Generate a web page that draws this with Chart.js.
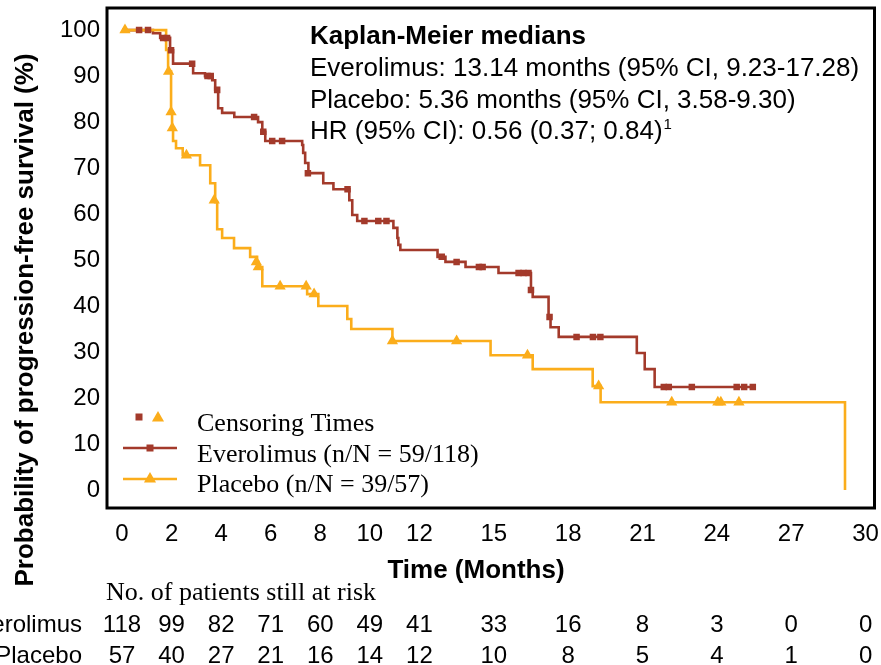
<!DOCTYPE html>
<html>
<head>
<meta charset="utf-8">
<script src="https://cdn.jsdelivr.net/npm/chart.js@4"></script>
<style>
  html, body { margin: 0; padding: 0; background: #fff; }
  #wrap { width: 881px; height: 665px; position: relative; overflow: hidden; }
</style>
</head>
<body>
<div id="wrap"><canvas id="km" width="881" height="665"></canvas></div>
<script>
// Axis ticks
const timeTicks = [0, 2, 4, 6, 8, 10, 12, 15, 18, 21, 24, 27, 30];
const survivalTicks = [0, 10, 20, 30, 40, 50, 60, 70, 80, 90, 100];

// Everolimus Kaplan-Meier steps (months, % progression-free)
const everolimusTimes = [0, 1.25, 1.54, 1.94, 2.06, 2.87, 3.35, 3.64, 3.76, 3.88, 4.04, 4.53, 5.49, 5.66, 5.78,
  7.27, 7.31, 7.39, 7.52, 8.12, 8.53, 9.17, 9.29, 9.49, 10.95, 11.11, 11.15, 11.23, 12.73, 13.05, 13.86,
  15.19, 16.50, 16.57, 17.21, 17.29, 17.62, 20.77, 21.09, 21.49, 25.45];
const everolimusSurvival = [100, 99.3, 98.3, 95.6, 92.7, 90.6, 90.0, 89.1, 87.0, 83.0, 82.0, 81.1, 80.0, 77.9, 75.9,
  75.0, 73.3, 71.1, 68.9, 66.7, 65.4, 63.0, 59.8, 58.5, 57.0, 54.8, 53.3, 52.2, 50.7, 49.6, 48.5,
  47.2, 43.5, 42.0, 37.6, 35.4, 33.3, 29.8, 26.3, 22.4, 22.4];
const everolimusCensorTimes = [0.69, 1.05, 1.66, 1.82, 1.98, 2.83, 3.45, 3.58, 3.84, 5.33, 5.70, 6.06, 6.46, 7.50,
  9.10, 9.78, 10.34, 10.67, 12.90, 13.50, 14.40, 14.55, 16.00, 16.20, 16.40, 16.50, 17.25, 18.34, 19.00, 19.30,
  21.86, 22.06, 22.99, 24.80, 25.10, 25.45];
const everolimusCensorSurvival = [100, 100, 98.3, 98.3, 95.6, 92.7, 90.0, 90.0, 87.0, 81.1, 77.9, 75.9, 75.9, 68.9,
  65.4, 58.5, 58.5, 58.5, 50.7, 49.6, 48.5, 48.5, 47.2, 47.2, 47.2, 43.5, 37.6, 33.3, 33.3, 33.3,
  22.4, 22.4, 22.4, 22.4, 22.4, 22.4];

// Placebo Kaplan-Meier steps
const placeboTimes = [0, 1.78, 1.86, 1.98, 2.02, 2.06, 2.18, 2.45, 3.15, 3.56, 3.76, 3.84, 4.04, 4.52, 5.17, 5.45,
  5.50, 5.66, 7.47, 7.92, 9.09, 9.25, 10.91, 14.87, 16.57, 18.99, 19.31, 29.17];
const placeboSurvival = [100, 95.7, 91.0, 82.2, 78.7, 75.9, 74.3, 72.8, 70.6, 66.7, 62.6, 56.7, 54.8, 52.6, 50.7, 49.6,
  48.5, 44.3, 42.6, 40.0, 37.2, 35.0, 32.4, 29.3, 26.3, 22.6, 19.1, 0];
const placeboCensorTimes = [0.12, 1.88, 1.98, 2.03, 2.60, 3.72, 5.42, 5.50, 6.38, 7.43, 7.75, 10.91, 13.50, 16.36,
  19.23, 22.18, 24.04, 24.16, 24.89];
const placeboCensorSurvival = [100, 91.0, 82.2, 78.7, 72.8, 63.0, 49.6, 48.5, 44.3, 44.3, 42.6, 32.4, 32.4, 29.3,
  22.6, 19.1, 19.1, 19.1, 19.1];

// Patients at risk at each time tick
const everolimusAtRisk = [118, 99, 82, 71, 60, 49, 41, 33, 16, 8, 3, 0, 0];
const placeboAtRisk = [57, 40, 27, 21, 16, 14, 12, 10, 8, 5, 4, 1, 0];

const medianLines = [
  'Kaplan-Meier medians',
  'Everolimus: 13.14 months (95% CI, 9.23-17.28)',
  'Placebo: 5.36 months (95% CI, 3.58-9.30)',
  'HR (95% CI): 0.56 (0.37; 0.84)'
];

const EVE = '#a33a2b';
const PLA = '#fbad1b';
const SANS = '"Liberation Sans", Arial, Helvetica, sans-serif';
const SERIF = '"Liberation Serif", "Times New Roman", Times, serif';

const zip = (xs, ys) => xs.map((x, i) => ({ x, y: ys[i] }));

function drawSquare(ctx, cx, cy, s, color) {
  ctx.fillStyle = color;
  ctx.fillRect(cx - s / 2, cy - s / 2, s, s);
}
function drawTriangle(ctx, cx, cy, r, color) {
  ctx.fillStyle = color;
  ctx.beginPath();
  ctx.moveTo(cx, cy - r);
  ctx.lineTo(cx + r * 0.866, cy + r * 0.5);
  ctx.lineTo(cx - r * 0.866, cy + r * 0.5);
  ctx.closePath();
  ctx.fill();
}

// Frame, medians text, legend, axis titles and the at-risk table
const kmDecor = {
  id: 'kmDecor',
  afterDraw(chart) {
    const { ctx, chartArea: a } = chart;
    const x = chart.scales.x;
    ctx.save();

    ctx.strokeStyle = '#000';
    ctx.lineWidth = 3;
    ctx.strokeRect(a.left, a.top, a.right - a.left, a.bottom - a.top);

    ctx.fillStyle = '#000';
    ctx.textAlign = 'left';
    ctx.textBaseline = 'alphabetic';
    ctx.font = 'bold 26px ' + SANS;
    ctx.fillText(medianLines[0], 310, 44);
    ctx.font = '26px ' + SANS;
    ctx.fillText(medianLines[1], 310, 76);
    ctx.fillText(medianLines[2], 310, 108);
    ctx.fillText(medianLines[3], 310, 139);
    const hrW = ctx.measureText(medianLines[3]).width;
    ctx.font = '15px ' + SANS;
    ctx.fillText('1', 310 + hrW + 1, 129);

    // legend
    drawSquare(ctx, 139, 417, 7, EVE);
    drawTriangle(ctx, 158, 418, 7, PLA);
    ctx.lineWidth = 2.5;
    ctx.strokeStyle = EVE;
    ctx.beginPath(); ctx.moveTo(123, 448); ctx.lineTo(177, 448); ctx.stroke();
    drawSquare(ctx, 150, 448, 7, EVE);
    ctx.strokeStyle = PLA;
    ctx.beginPath(); ctx.moveTo(123, 479); ctx.lineTo(177, 479); ctx.stroke();
    drawTriangle(ctx, 150, 479, 7, PLA);
    ctx.fillStyle = '#000';
    ctx.font = '26px ' + SERIF;
    ctx.fillText('Censoring Times', 197, 431);
    ctx.fillText('Everolimus (n/N = 59/118)', 197, 462);
    ctx.fillText('Placebo (n/N = 39/57)', 197, 492);

    // axis titles
    ctx.font = 'bold 26px ' + SANS;
    ctx.textAlign = 'center';
    ctx.fillText('Time (Months)', 476, 578);
    ctx.save();
    ctx.translate(33, 320);
    ctx.rotate(-Math.PI / 2);
    ctx.fillText('Probability of progression-free survival (%)', 0, 0);
    ctx.restore();

    // at-risk table
    ctx.textAlign = 'left';
    ctx.font = '26px ' + SERIF;
    ctx.fillText('No. of patients still at risk', 106, 600);
    ctx.font = '24px ' + SANS;
    ctx.textAlign = 'right';
    ctx.fillText('Everolimus', 82, 632);
    ctx.fillText('Placebo', 82, 663);
    ctx.textAlign = 'center';
    timeTicks.forEach((t, i) => {
      const px = x.getPixelForValue(t);
      ctx.fillText(String(everolimusAtRisk[i]), px, 632);
      ctx.fillText(String(placeboAtRisk[i]), px, 663);
    });

    ctx.restore();
  }
};

new Chart(document.getElementById('km'), {
  type: 'scatter',
  data: {
    datasets: [
      {
        label: 'Everolimus censored',
        data: zip(everolimusCensorTimes, everolimusCensorSurvival),
        pointStyle: 'rect', pointRadius: 4.6, backgroundColor: EVE, borderWidth: 0,
        order: 0
      },
      {
        label: 'Placebo censored',
        data: zip(placeboCensorTimes, placeboCensorSurvival),
        pointStyle: 'triangle', pointRadius: 6.5, backgroundColor: PLA, borderWidth: 0,
        order: 1
      },
      {
        label: 'Everolimus',
        data: zip(everolimusTimes, everolimusSurvival),
        showLine: true, stepped: 'before', borderColor: EVE, borderWidth: 2.6,
        pointRadius: 0, fill: false, order: 3
      },
      {
        label: 'Placebo',
        data: zip(placeboTimes, placeboSurvival),
        showLine: true, stepped: 'before', borderColor: PLA, borderWidth: 2.6,
        pointRadius: 0, fill: false, order: 2
      }
    ]
  },
  options: {
    responsive: false,
    animation: false,
    devicePixelRatio: 1,
    events: [],
    layout: { padding: { left: 0, top: 8, right: 6, bottom: 0 } },
    plugins: { legend: { display: false }, tooltip: { enabled: false }, title: { display: false } },
    scales: {
      x: {
        type: 'linear',
        min: -0.605,
        max: 30.36,
        grid: { display: false, drawTicks: false },
        border: { display: false },
        afterBuildTicks: (s) => { s.ticks = timeTicks.map(v => ({ value: v })); },
        afterFit: (s) => {
          s.height = 157;
          s.paddingLeft = 0; s.paddingRight = 0; s.paddingTop = 0; s.paddingBottom = 0;
        },
        ticks: {
          autoSkip: false, maxRotation: 0, padding: 12, color: '#000',
          font: { family: SANS, size: 24 },
          callback: (v) => String(v)
        }
      },
      y: {
        type: 'linear',
        min: -3.9,
        max: 104.8,
        grid: { display: false, drawTicks: false },
        border: { display: false },
        afterBuildTicks: (s) => { s.ticks = survivalTicks.map(v => ({ value: v })); },
        afterFit: (s) => {
          s.width = 107;
          s.paddingLeft = 0; s.paddingRight = 0; s.paddingTop = 0; s.paddingBottom = 0;
        },
        ticks: {
          autoSkip: false, padding: 7, color: '#000',
          font: { family: SANS, size: 24 },
          callback: (v) => String(v)
        }
      }
    }
  },
  plugins: [kmDecor]
});
</script>
</body>
</html>
